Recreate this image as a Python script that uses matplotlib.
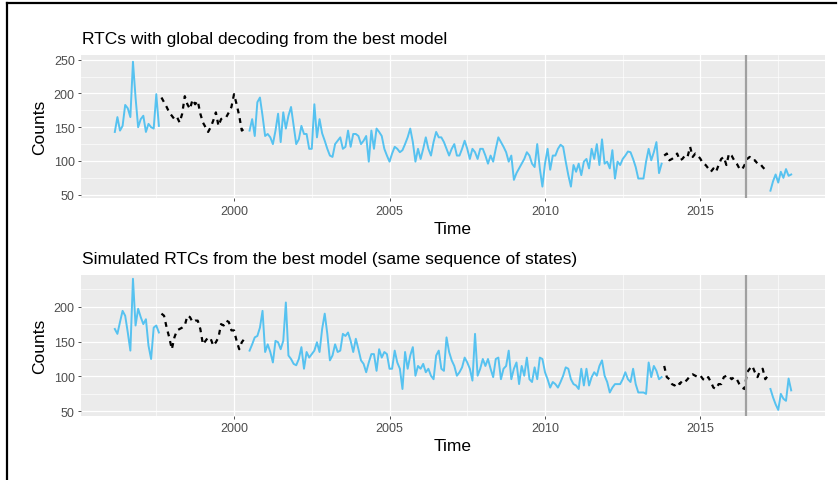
import numpy as np
import matplotlib
matplotlib.use("Agg")
import matplotlib.pyplot as plt
from matplotlib.lines import Line2D
from matplotlib.ticker import MultipleLocator

# Monthly series, March 1996 - December 2017
start_year, start_month = 1996, 3

# Decoded hidden state for every month, as (state, run length)
state_runs = [(1, 18), (2, 34), (1, 160), (2, 41), (1, 9)]

# Month that separates the fitting period from the hold-out period
split_time = 2016 + 5.5 / 12

observed = [
    # state 1
    143, 165, 145, 152, 183, 178, 165, 247, 194, 150, 162, 167, 143, 155, 150, 148, 199, 152,
    # state 2
    194, 187, 180, 172, 167, 162, 165, 157, 170, 196, 184, 177, 191, 184, 189, 170, 157,
    150, 143, 150, 160, 172, 152, 162, 165, 165, 172, 180, 199, 184, 167, 145, 148, 145,
    # state 1
    145, 162, 137, 187, 194, 167, 137, 140, 135, 125, 145, 170, 128, 172, 148, 167, 180, 152,
    125, 132, 152, 140, 140, 118, 118, 184, 135, 162, 141, 130, 118, 108, 106, 125, 130,
    135, 118, 121, 145, 121, 140, 140, 137, 125, 130, 137, 99, 145, 118, 148, 143, 137, 118, 108,
    99, 111, 121, 118, 113, 116, 125, 135, 148, 128, 99, 118, 103, 118, 135, 118, 108, 128, 143, 135,
    135, 128, 118, 108, 118, 125, 108, 108, 118, 130, 118, 103, 118, 113, 103, 118, 118, 108, 96,
    108, 99, 118, 135, 128, 121, 113, 99, 108, 72, 82, 89, 96, 103, 113, 108, 96, 91, 125, 89,
    62, 96, 118, 87, 108, 108, 118, 124, 121, 99, 79, 62, 94, 84, 96, 79, 99, 103, 89,
    118, 103, 125, 94, 132, 96, 99, 89, 116, 74, 99, 94, 103, 108, 114, 113, 103, 91, 74, 74,
    74, 99, 118, 101, 113, 128, 82, 96,
    # state 2
    108, 111, 101, 103, 106, 111, 101, 103, 108, 106, 121, 106, 111, 108, 103, 96, 94, 89, 84, 89,
    84, 94, 103, 106, 94, 111, 108, 101, 96, 89, 87, 94, 103, 106, 101, 101, 96, 96, 91, 87, 84,
    # state 1
    56, 70, 80, 68, 84, 75, 88, 78, 80,
]

simulated = [
    # state 1
    168, 161, 178, 194, 187, 163, 137, 240, 173, 197, 185, 175, 182, 144, 125, 170, 173, 163,
    # state 2
    190, 187, 170, 156, 139, 156, 166, 168, 170, 173, 187, 185, 178, 180, 180, 168, 146,
    151, 156, 154, 144, 149, 156, 175, 173, 180, 178, 166, 166, 151, 139, 149, 154, 151,
    # state 1
    137, 146, 156, 158, 170, 194, 135, 146, 135, 120, 151, 149, 139, 151, 206, 130, 125, 118,
    116, 125, 142, 111, 135, 127, 132, 137, 149, 135, 168, 190, 161, 123, 130, 146, 135,
    137, 161, 158, 163, 151, 135, 154, 139, 123, 118, 106, 120, 132, 132, 108, 139, 127, 135, 132, 111,
    111, 137, 120, 111, 82, 135, 111, 130, 142, 101, 115, 111, 118, 106, 111, 101, 96, 130, 137, 111,
    108, 156, 135, 123, 115, 101, 106, 113, 127, 120, 111, 94, 161, 101, 111, 125, 115, 125, 111, 99,
    125, 127, 96, 111, 115, 137, 96, 111, 120, 89, 115, 101, 127, 96, 92, 113, 96, 127, 125, 106,
    96, 84, 92, 89, 84, 92, 101, 113, 111, 96, 89, 87, 82, 111, 87, 111, 87,
    99, 106, 101, 115, 123, 101, 92, 77, 84, 89, 89, 89, 96, 106, 96, 92, 111, 89, 77, 77,
    77, 75, 120, 99, 115, 108, 96, 99,
    # state 2
    115, 99, 96, 89, 87, 92, 89, 94, 92, 96, 101, 103, 101, 99, 101, 96, 94, 99, 92, 84,
    82, 89, 89, 99, 101, 101, 96, 99, 96, 89, 84, 82, 106, 111, 115, 106, 99, 108, 111, 96, 101,
    # state 1
    82, 70, 60, 52, 75, 68, 65, 97, 80,
]

panel_titles = [
    "RTCs with global decoding from the best model",
    "Simulated RTCs from the best model (same sequence of states)",
]

BLUE = "#56C2F0"
PANEL_BG = "#EBEBEB"
TEXT_GREY = "#4D4D4D"

plt.rcParams["font.family"] = ["Liberation Sans", "DejaVu Sans"]

states = np.concatenate([np.full(n, s) for s, n in state_runs])
n_months = len(states)
time = start_year + (start_month - 1 + np.arange(n_months)) / 12.0

fig = plt.figure(figsize=(8.4, 4.81), dpi=100)
W, H = 840.0, 481.0

# panel boxes in pixels: left, top, right, bottom
boxes = [(81, 56, 825, 199.3), (81, 276, 825, 416.7)]
ylims = [(44.7, 257.0), (43.7, 245.4)]
yticks = [[50, 100, 150, 200, 250], [50, 100, 150, 200]]

for series, title, box, ylim, yt in zip([observed, simulated], panel_titles,
                                        boxes, ylims, yticks):
    l, t, r, b = box
    pw, ph = r - l, b - t
    ax = fig.add_axes([l / W, 1 - b / H, pw / W, ph / H])
    ax.set_facecolor(PANEL_BG)
    for sp in ax.spines.values():
        sp.set_visible(False)

    values = np.asarray(series, dtype=float)
    s1 = np.where(states == 1, values, np.nan)
    s2 = np.where(states == 2, values, np.nan)

    ax.plot(time, s1, color=BLUE, lw=1.4, solid_joinstyle="round", zorder=3)
    ax.plot(time, s2, color="black", lw=1.6, linestyle=(0, (2.2, 2.2)), zorder=3)
    ax.axvline(split_time, color="#A0A0A0", lw=1.6, zorder=4)

    span = time[-1] - time[0]
    ax.set_xlim(time[0] - 0.05 * span, time[-1] + 0.05 * span)
    ax.set_ylim(*ylim)

    ax.set_xticks([2000, 2005, 2010, 2015])
    ax.xaxis.set_minor_locator(MultipleLocator(2.5))
    ax.set_yticks(yt)
    ax.yaxis.set_minor_locator(MultipleLocator(25))
    ax.grid(which="major", color="white", lw=0.9, zorder=0)
    ax.grid(which="minor", color="white", lw=0.45, zorder=0)
    ax.set_axisbelow(True)
    ax.tick_params(which="major", length=2.5, width=0.6, color="#333333",
                   labelsize=9, labelcolor=TEXT_GREY, pad=2)
    ax.tick_params(which="minor", length=0)

    # axis titles, placed in pixel offsets from the panel edges
    ax.set_xlabel("Time", fontsize=12.5, color="black")
    ax.xaxis.set_label_coords(0.5, -30.0 / ph)
    ax.xaxis.label.set_verticalalignment("center")
    ax.set_ylabel("Counts", fontsize=12.5, color="black")
    ax.yaxis.set_label_coords(-41.0 / pw, 0.5)
    ax.yaxis.label.set_verticalalignment("center")

    ax.text(0.0015, 1.0 + 16.5 / ph, title, transform=ax.transAxes,
            fontsize=12.5, ha="left", va="center", color="black")

# outer frame
fig.add_artist(Line2D([6.5 / W, 6.5 / W], [0, 1 - 4 / H], color="black",
                      lw=1.6, transform=fig.transFigure))
fig.add_artist(Line2D([6.5 / W, 836 / W], [1 - 4 / H, 1 - 4 / H], color="black",
                      lw=1.6, transform=fig.transFigure))

fig.savefig("out.png", dpi=100, facecolor="white")
